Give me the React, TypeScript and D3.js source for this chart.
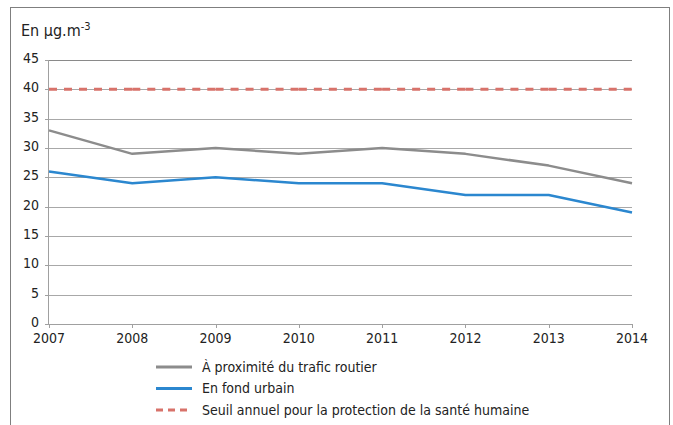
import { useEffect, useRef } from 'react';
import * as d3 from 'd3';

const years = [2007, 2008, 2009, 2010, 2011, 2012, 2013, 2014];
const roadside = [33, 29, 30, 29, 30, 29, 27, 24];
const urban = [26, 24, 25, 24, 24, 22, 22, 19];
const threshold = [40, 40, 40, 40, 40, 40, 40, 40];
const yTicks = [0, 5, 10, 15, 20, 25, 30, 35, 40, 45];

const series = [
  { name: 'À proximité du trafic routier', values: roadside, color: '#8c8c8c', dash: '' },
  { name: 'En fond urbain', values: urban, color: '#2b87cf', dash: '' },
  { name: 'Seuil annuel pour la protection de la santé humaine', values: threshold, color: '#d8726a', dash: '8,7' },
];

const FONT = '"Liberation Sans Narrow", "DejaVu Sans Condensed", sans-serif';

export default function App() {
  const svgRef = useRef<SVGSVGElement>(null);

  useEffect(() => {
    if (!svgRef.current) return;
    const svg = d3.select(svgRef.current);
    svg.selectAll('*').remove();

    const W = 673;
    const H = 425;

    // outer frame (bottom edge runs off the picture)
    svg.append('rect')
      .attr('x', 10.5).attr('y', 7.5)
      .attr('width', 659).attr('height', 440)
      .style('fill', '#fff').style('stroke', '#7f7f7f').style('stroke-width', 1);

    const x = d3.scaleLinear().domain([2007, 2014]).range([49, 632]);
    const y = d3.scaleLinear().domain([0, 45]).range([324, 60]);

    // title
    const title = svg.append('text')
      .attr('x', 21).attr('y', 36)
      .style('font-family', FONT).style('font-size', '16px').style('fill', '#222');
    title.append('tspan').text('En µg.m');
    title.append('tspan').attr('dy', -6).style('font-size', '11px').text('-3');

    // grid lines
    yTicks.filter(t => t > 0).forEach(t => {
      svg.append('line')
        .attr('x1', x(2007)).attr('x2', x(2014))
        .attr('y1', Math.round(y(t)) + 0.5).attr('y2', Math.round(y(t)) + 0.5)
        .style('stroke', t === 45 ? '#8a8a8a' : '#a8a8a8')
        .style('stroke-width', 1);
    });

    // y axis
    svg.append('line')
      .attr('x1', x(2007) - 0.5).attr('x2', x(2007) - 0.5)
      .attr('y1', y(45)).attr('y2', y(0))
      .style('stroke', '#a0a0a0');
    yTicks.forEach(t => {
      svg.append('line')
        .attr('x1', x(2007) - 4).attr('x2', x(2007))
        .attr('y1', Math.round(y(t)) + 0.5).attr('y2', Math.round(y(t)) + 0.5)
        .style('stroke', '#a0a0a0');
      svg.append('text')
        .attr('x', 39).attr('y', y(t) - 2)
        .attr('dy', '0.35em')
        .attr('text-anchor', 'end')
        .style('font-family', FONT).style('font-size', '14px').style('fill', '#222')
        .text(t);
    });

    // x axis
    svg.append('line')
      .attr('x1', x(2007)).attr('x2', x(2014))
      .attr('y1', Math.round(y(0)) + 0.5).attr('y2', Math.round(y(0)) + 0.5)
      .style('stroke', '#a0a0a0');
    years.forEach(yr => {
      svg.append('line')
        .attr('x1', Math.round(x(yr)) + 0.5).attr('x2', Math.round(x(yr)) + 0.5)
        .attr('y1', y(0)).attr('y2', y(0) + 4)
        .style('stroke', '#a0a0a0');
      svg.append('text')
        .attr('x', x(yr)).attr('y', 343)
        .attr('text-anchor', 'middle')
        .style('font-family', FONT).style('font-size', '14px').style('fill', '#222')
        .text(yr);
    });

    // series, drawn segment by segment so dashes restart at each year
    series.forEach(s => {
      const line = d3.line<number>()
        .x((_, i) => x(years[i]))
        .y(d => y(d));
      if (s.dash) {
        for (let i = 0; i < years.length - 1; i++) {
          svg.append('line')
            .attr('x1', x(years[i])).attr('x2', x(years[i + 1]))
            .attr('y1', y(s.values[i])).attr('y2', y(s.values[i + 1]))
            .style('stroke', s.color).style('stroke-width', 3)
            .style('stroke-dasharray', s.dash);
        }
      } else {
        svg.append('path')
          .datum(s.values)
          .attr('d', line)
          .style('fill', 'none')
          .style('stroke', s.color).style('stroke-width', 2.5)
          .style('stroke-linejoin', 'round');
      }
    });

    // legend
    const legend = svg.append('g');
    series.forEach((s, i) => {
      const ly = 367 + i * 21.5;
      legend.append('line')
        .attr('x1', 156).attr('x2', 192)
        .attr('y1', ly).attr('y2', ly)
        .style('stroke', s.color).style('stroke-width', 3)
        .style('stroke-dasharray', s.dash ? '7,5' : null);
      legend.append('text')
        .attr('x', 202).attr('y', ly)
        .attr('dy', '0.35em')
        .style('font-family', FONT).style('font-size', '14px').style('fill', '#222')
        .text(s.name);
    });

    svg.attr('width', W).attr('height', H);
  }, []);

  return (
    <div style={{ position: 'fixed', left: 0, top: 0, width: 673, height: 425, background: '#fff' }}>
      <svg ref={svgRef} width={673} height={425} style={{ display: 'block' }} />
    </div>
  );
}
